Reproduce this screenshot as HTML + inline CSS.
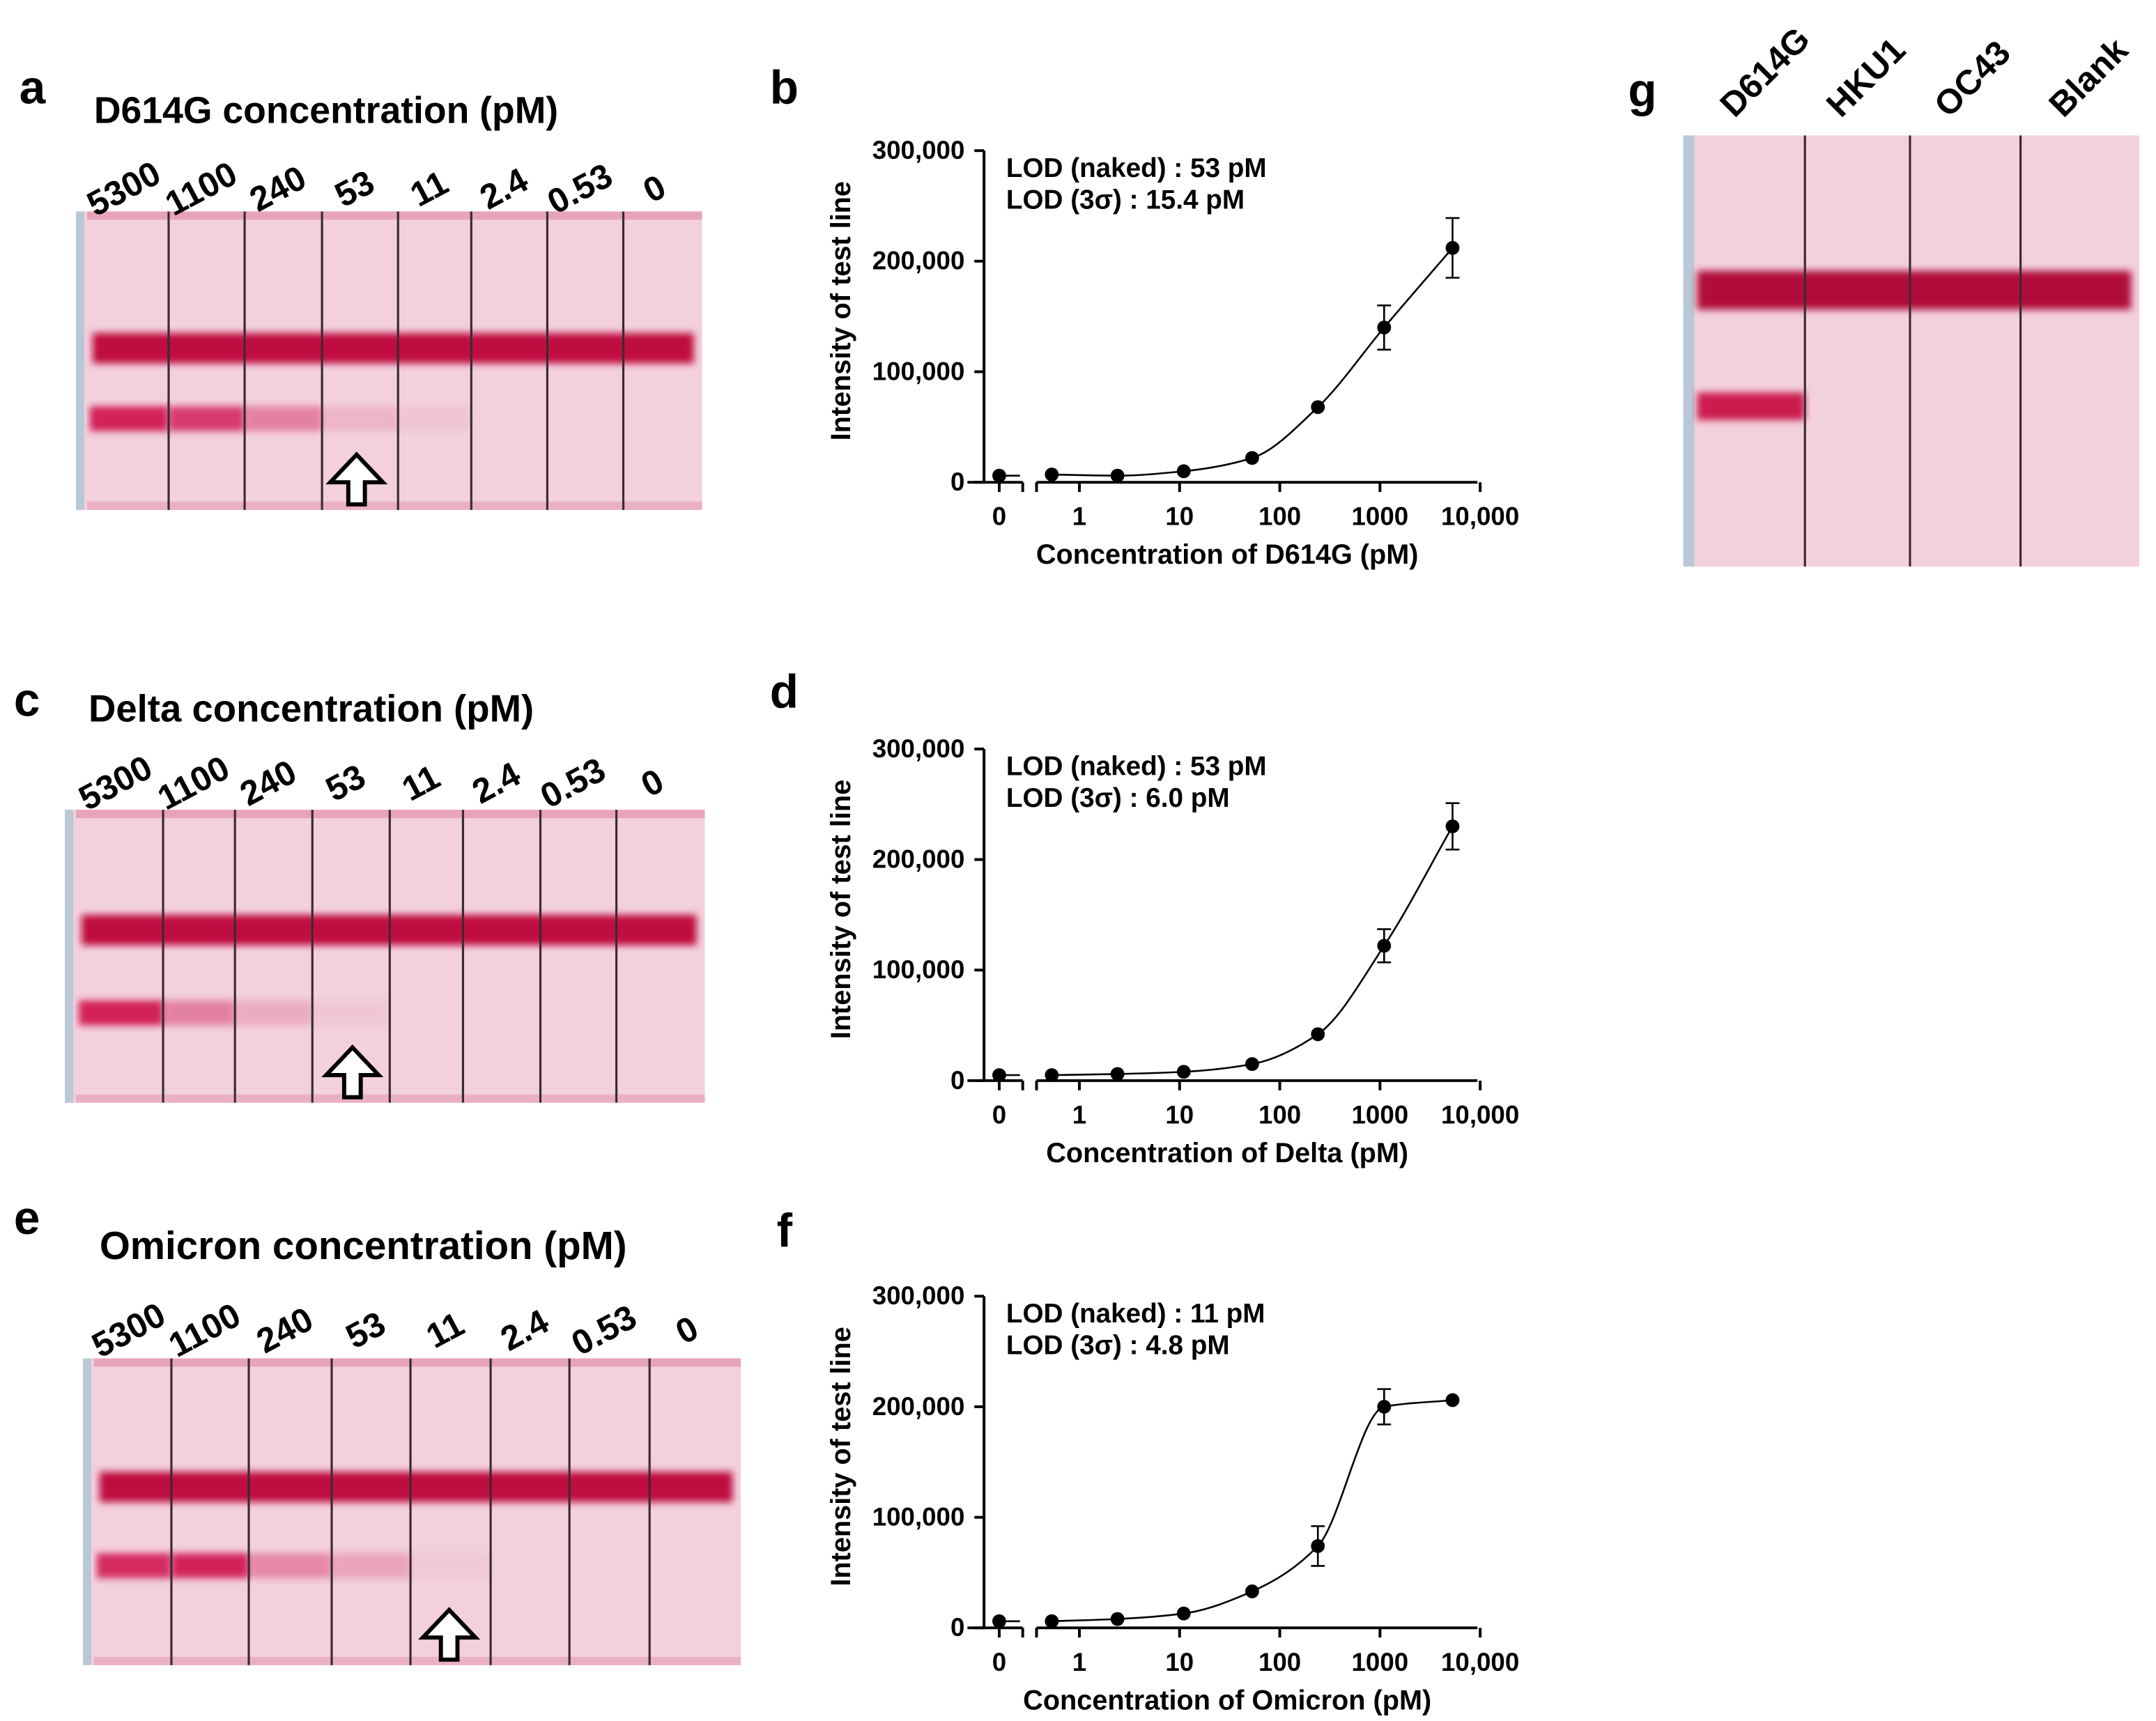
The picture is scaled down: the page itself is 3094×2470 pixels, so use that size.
<!DOCTYPE html>
<html><head><meta charset="utf-8"><style>
html,body{margin:0;padding:0;background:#fff}
svg{display:block;font-family:"Liberation Sans",Arial,sans-serif;font-weight:bold}
</style></head><body>
<svg id="fig" width="3094" height="2470" viewBox="0 0 1560 1245.4" xmlns="http://www.w3.org/2000/svg">
<defs>
<filter id="blur" x="-5%" y="-50%" width="110%" height="200%"><feGaussianBlur stdDeviation="2.5"/></filter>
</defs>
<g id="root"></g>
</svg>
<script>
// ---- chart data ----
const concs = [0, 0.53, 2.4, 11, 53, 240, 1100, 5300];
const valsB = [6000, 7000, 6000, 10000, 22000, 68000, 140000, 212000];
const errB  = [0, 0, 0, 0, 0, 0, 20000, 27000];
const valsD = [5000, 5000, 6000, 8000, 15000, 42000, 122000, 230000];
const errD  = [0, 0, 0, 0, 0, 0, 15000, 21000];
const valsF = [6000, 6000, 8000, 13000, 33000, 74000, 200000, 206000];
const errF  = [0, 0, 0, 0, 0, 18000, 16000, 0];
const yTicks = [0, 100000, 200000, 300000];
const yTickLabels = ["0", "100,000", "200,000", "300,000"];
const xTicks = [1, 10, 100, 1000, 10000];
const xTickLabels = ["1", "10", "100", "1000", "10,000"];
const stripLabels = ["5300", "1100", "240", "53", "11", "2.4", "0.53", "0"];
const testIntensD614G = [1, 0.85, 0.45, 0.15, 0.06, 0, 0, 0];
const testIntensDelta = [1, 0.45, 0.2, 0.05, 0, 0, 0, 0];
const testIntensOmi   = [0.95, 1, 0.4, 0.25, 0.04, 0, 0, 0];

const NS = "http://www.w3.org/2000/svg";
const root = document.getElementById('root');
function el(tag, attrs, parent, text){
  const e = document.createElementNS(NS, tag);
  for (const k in attrs) e.setAttribute(k, attrs[k]);
  if (text !== undefined) e.textContent = text;
  (parent || root).appendChild(e);
  return e;
}

function panelLetter(x, y, t){
  const e = el('text', {x:x, y:y, 'font-size':34}, root, t);
  
  
}
panelLetter(14, 75, 'a'); panelLetter(557, 75, 'b');
panelLetter(10, 518, 'c'); panelLetter(557, 512, 'd');
panelLetter(10, 893, 'e'); panelLetter(562, 902, 'f');
panelLetter(1178, 77, 'g');

function monotonePath(pts){
  const n = pts.length, dx = [], m = [], t = [];
  for (let i = 0; i < n - 1; i++) { dx.push(pts[i+1][0] - pts[i][0]); m.push((pts[i+1][1] - pts[i][1]) / dx[i]); }
  t.push(m[0]);
  for (let i = 1; i < n - 1; i++) t.push(m[i-1] * m[i] <= 0 ? 0 : 3 * (dx[i-1] + dx[i]) / ((2*dx[i] + dx[i-1]) / m[i-1] + (dx[i] + 2*dx[i-1]) / m[i]));
  t.push(m[n-2]);
  let d = 'M' + pts[0][0] + ',' + pts[0][1];
  for (let i = 0; i < n - 1; i++) {
    const h = dx[i] / 3;
    d += ' C' + (pts[i][0] + h) + ',' + (pts[i][1] + t[i]*h) + ' ' + (pts[i+1][0] - h) + ',' + (pts[i+1][1] - t[i+1]*h) + ' ' + pts[i+1][0] + ',' + pts[i+1][1];
  }
  return d;
}

function chart(name, top, vals, errs, xTitle, lod1, lod2){
  const g = el('g', {});
  
  
  const y0 = top + 240;
  const yS = v => y0 - v / 300000 * 240;
  const xS = c => c === 0 ? 723 : 781 + 72.5 * Math.log10(c);
  const ya = el('line', {x1:712, y1:top, x2:712, y2:y0, stroke:'#000', 'stroke-width':2}, g);
   
  yTicks.forEach((t, i) => {
    el('line', {x1:705, y1:yS(t), x2:712, y2:yS(t), stroke:'#000', 'stroke-width':2}, g);
    const tl = el('text', {x:698, y:yS(t) + 6, 'font-size':18.5, 'text-anchor':'end'}, g, yTickLabels[i]);
     
  });
  el('line', {x1:700, y1:y0, x2:740, y2:y0, stroke:'#000', 'stroke-width':2}, g);
  el('line', {x1:740, y1:y0, x2:740, y2:y0 + 7, stroke:'#000', 'stroke-width':2}, g);
  el('line', {x1:750, y1:y0, x2:750, y2:y0 + 7, stroke:'#000', 'stroke-width':2}, g);
  const xa = el('line', {x1:750, y1:y0, x2:1069, y2:y0, stroke:'#000', 'stroke-width':2}, g);
   
  el('line', {x1:723, y1:y0, x2:723, y2:y0 + 7, stroke:'#000', 'stroke-width':2}, g);
  const z = el('text', {x:723, y:y0 + 31, 'font-size':18.5, 'text-anchor':'middle'}, g, '0');
   
  xTicks.forEach((t, i) => {
    el('line', {x1:xS(t), y1:y0, x2:xS(t), y2:y0 + 7, stroke:'#000', 'stroke-width':2}, g);
    const tl = el('text', {x:xS(t), y:y0 + 31, 'font-size':18.5, 'text-anchor':'middle'}, g, xTickLabels[i]);
     
  });
  const xt = el('text', {x:888, y:y0 + 59, 'font-size':20, 'text-anchor':'middle'}, g, xTitle);
   
  const yt = el('text', {x:0, y:0, 'font-size':20, 'text-anchor':'middle', transform:'translate(615,' + (top + 116) + ') rotate(-90)'}, g, 'Intensity of test line');
   
  const l1 = el('text', {x:728, y:top + 19, 'font-size':19.5}, g, lod1);
   
  const l2 = el('text', {x:728, y:top + 42, 'font-size':19.5}, g, lod2);
   
  el('line', {x1:723, y1:yS(vals[0]), x2:738, y2:yS(vals[0]), stroke:'#000', 'stroke-width':1.3}, g);
  const pts = [];
  for (let i = 1; i < concs.length; i++) pts.push([xS(concs[i]), yS(vals[i])]);
  const cv = el('path', {d:monotonePath(pts), fill:'none', stroke:'#000', 'stroke-width':1.3}, g);
   
  concs.forEach((c, i) => {
    const x = xS(c), y = yS(vals[i]);
    const e = errs[i];
    if (e > 0) {
      el('line', {x1:x, y1:yS(vals[i] - e), x2:x, y2:yS(vals[i] + e), stroke:'#000', 'stroke-width':1.3}, g);
      el('line', {x1:x - 5, y1:yS(vals[i] - e), x2:x + 5, y2:yS(vals[i] - e), stroke:'#000', 'stroke-width':1.3}, g);
      el('line', {x1:x - 5, y1:yS(vals[i] + e), x2:x + 5, y2:yS(vals[i] + e), stroke:'#000', 'stroke-width':1.3}, g);
    }
    const p = el('circle', {cx:x, cy:y, r:5, fill:'#000'}, g);
    
    
  });
}
chart('chart-d614g', 109, valsB, errB, 'Concentration of D614G (pM)', 'LOD (naked) : 53 pM', 'LOD (3σ) : 15.4 pM');
chart('chart-delta', 542, valsD, errD, 'Concentration of Delta (pM)', 'LOD (naked) : 53 pM', 'LOD (3σ)  : 6.0 pM');
chart('chart-omicron', 938, valsF, errF, 'Concentration of Omicron (pM)', 'LOD (naked) : 11 pM', 'LOD (3σ) : 4.8 pM');

function strip(name, x0, x1, y0, y1, dividers, ctrlY, testY, intens, title, titleX, titleY, titleSize, labelY, arrowX){
  const g = el('g', {});
  
  
  const bg = el('rect', {x:x0, y:y0, width:x1 - x0, height:y1 - y0, fill:'#f2d0dc'}, g);
   
  el('rect', {x:x0, y:y0, width:6, height:y1 - y0, fill:'#b9c8d6'}, g);
  el('rect', {x:x0 + 8, y:y0, width:x1 - x0 - 8, height:6, fill:'#e7a3b8'}, g);
  el('rect', {x:x0 + 8, y:y1 - 6, width:x1 - x0 - 8, height:6, fill:'#eab0c2'}, g);
  const cb = el('rect', {x:x0 + 12, y:ctrlY - 11, width:x1 - x0 - 18, height:22, fill:'#c0103f', filter:'url(#blur)'}, g);
   
  const edges = [x0 + 10].concat(dividers).concat([x1 - 4]);
  intens.forEach((v, i) => {
    if (v <= 0) return;
    const t = el('rect', {x:edges[i], y:testY - 9, width:edges[i + 1] - edges[i], height:18, fill:'#d3245a', opacity:v, filter:'url(#blur)'}, g);
    
    
  });
  dividers.forEach(dx => el('line', {x1:dx, y1:y0, x2:dx, y2:y1, stroke:'#3a2a35', 'stroke-width':1.6}, g));
  const tt = el('text', {x:titleX, y:titleY, 'font-size':titleSize}, g, title);
   
  stripLabels.forEach((s, i) => {
    const cx = (edges[i] + edges[i + 1]) / 2;
    const lb = el('text', {x:0, y:0, 'font-size':25, 'text-anchor':'middle', transform:'translate(' + cx + ',' + labelY + ') rotate(-28)'}, g, s);
    
    
  });
  const ay = y1 - 4;
  const a = el('path', {d:'M' + (arrowX - 6) + ',' + ay + ' v-16 h-13 l19,-20 l19,20 h-13 v16 z', fill:'#fff', stroke:'#000', 'stroke-width':3}, g);
   
}
strip('strip-d614g', 55, 508, 153, 369, [122,177,233,288,341,396,451], 252, 303, testIntensD614G, 'D614G concentration (pM)', 68, 89, 27, 144, 258);
strip('strip-delta', 47, 510, 586, 798, [118,170,226,282,335,391,446], 673, 733, testIntensDelta, 'Delta concentration (pM)', 64, 522, 27.5, 574, 255);
strip('strip-omicron', 60, 536, 983, 1205, [124,180,240,297,355,412,470], 1076, 1133, testIntensOmi, 'Omicron concentration (pM)', 72, 911, 28.5, 970, 325);

(function(){
  const g = el('g', {});
  
  
  el('rect', {x:1218, y:98, width:330, height:312, fill:'#f2d0dc'}, g);
  el('rect', {x:1218, y:98, width:8, height:312, fill:'#b9c8d6'}, g);
  const cb = el('rect', {x:1228, y:196, width:314, height:28, fill:'#b00c3a', filter:'url(#blur)'}, g);
   
  const tl = el('rect', {x:1228, y:284, width:78, height:20, fill:'#cc1a50', filter:'url(#blur)'}, g);
   
  [1306, 1382, 1462].forEach(dx => el('line', {x1:dx, y1:98, x2:dx, y2:410, stroke:'#3a2a35', 'stroke-width':1.6}, g));
  const names = ['D614G', 'HKU1', 'OC43', 'Blank'];
  const cxs = [1267, 1344, 1422, 1505];
  names.forEach((n, i) => {
    const t = el('text', {x:0, y:0, 'font-size':25, transform:'translate(' + (cxs[i] - 12) + ',86) rotate(-45)'}, g, n);
    
    
  });
})();
</script>
</body></html>
